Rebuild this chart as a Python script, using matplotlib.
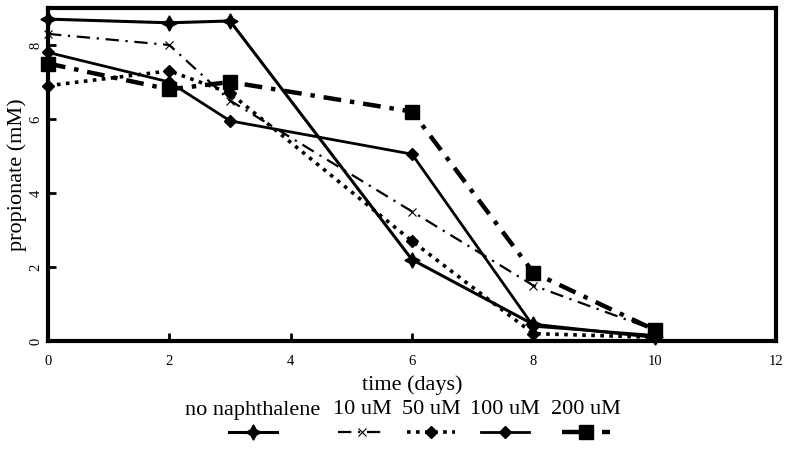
import matplotlib
matplotlib.use("Agg")
import matplotlib.pyplot as plt
from matplotlib.lines import Line2D

plt.rcParams['font.family'] = ['Liberation Serif', 'DejaVu Serif']

days = [0, 2, 3, 6, 8, 10]
no_naph = [8.7, 8.6, 8.65, 2.2, 0.45, 0.1]
uM10 = [8.3, 8.0, 6.5, 3.5, 1.5, 0.3]
uM50 = [6.9, 7.3, 6.7, 2.7, 0.2, 0.1]
uM100 = [7.8, 7.0, 5.95, 5.05, 0.4, 0.15]
uM200 = [7.5, 6.8, 7.0, 6.2, 1.85, 0.3]
labels = ['no naphthalene', '10 uM', '50 uM', '100 uM', '200 uM']

styles = [
    dict(ls='-', lw=2.2, marker=(4, 1, 0), ms=11, color='black'),
    dict(ls=(0, (6, 3, 1, 3)), lw=1.6, marker='x', ms=6, mew=0.8, color='black'),
    dict(ls=(0, (1, 1.5)), lw=2.6, marker='D', ms=6, color='black'),
    dict(ls='-', lw=2.0, marker='D', ms=6, color='black'),
    dict(ls=(0, (4, 2, 1, 2)), lw=3.2, marker='s', ms=10, color='black'),
]
series = [no_naph, uM10, uM50, uM100, uM200]

fig = plt.figure(figsize=(7.85, 4.57), dpi=100)
ax = fig.add_axes([48/785, 1-341/457, (776-48)/785, (341-8)/457])
for s, st in zip(series, styles):
    ax.plot(days, s, clip_on=False, **st)

ax.set_xlim(0, 12)
ax.set_ylim(0, 9)
ax.set_xticks(range(0, 13, 2))
ax.set_yticks(range(0, 9, 2))
for sp in ax.spines.values():
    sp.set_linewidth(3)
ax.tick_params(direction='in', length=6, width=2, labelsize=10.5)
ax.tick_params(axis='x', pad=10)
ax.tick_params(axis='y', pad=4)
for lab in ax.get_yticklabels():
    lab.set_rotation(90)
    lab.set_va('center')
ax.set_xlabel('time (days)', fontsize=16, labelpad=5)
ax.set_ylabel('propionate (mM)', fontsize=16, labelpad=2)

# legend: labels on a row with samples below
xs = [253, 362, 431, 505, 586]
for x, lab, st in zip(xs, labels, styles):
    fig.text(x/785, 1-410/457, lab, ha='center', va='center', fontsize=16)
    l = Line2D([(x-24)/785, (x+24)/785], [1-432/457, 1-432/457],
               transform=fig.transFigure, **st)
    l.set_marker('None')
    fig.add_artist(l)
    m = Line2D([x/785], [1-432/457], transform=fig.transFigure,
               ls='None', marker=st['marker'], ms=st['ms'], color='black',
               mew=st.get('mew', 1))
    fig.add_artist(m)

fig.savefig('out.png', dpi=100)
